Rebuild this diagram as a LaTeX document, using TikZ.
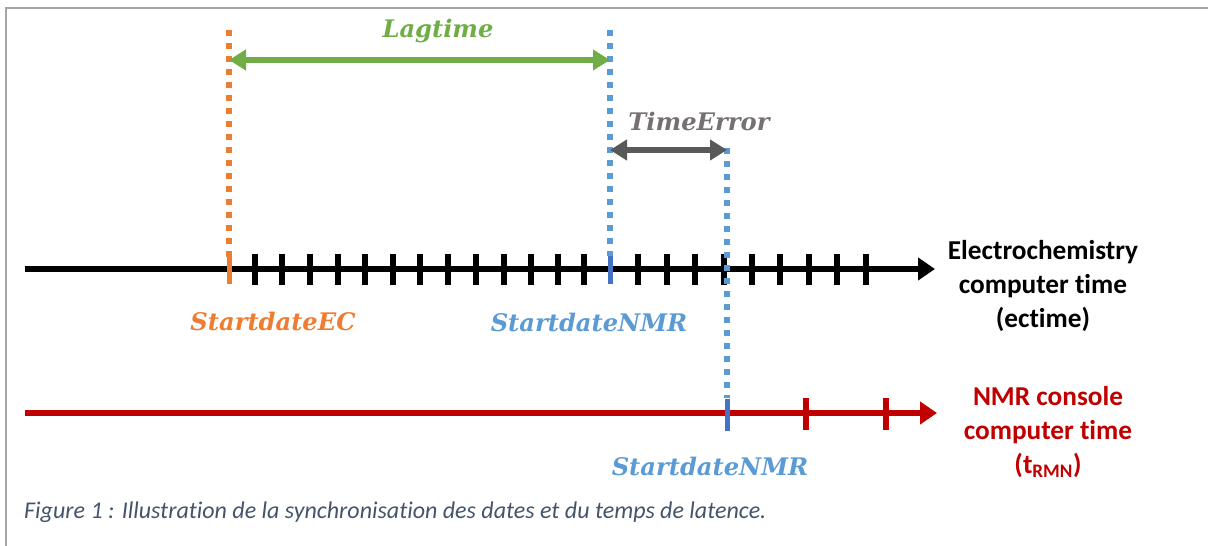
\documentclass[tikz,border=0pt]{standalone}
\usepackage{fontspec}
\setmainfont{Carlito}[Ligatures=NoCommon]
\newfontfamily\mfont{DejaVu Serif}
\usetikzlibrary{arrows.meta}
\definecolor{cOrange}{HTML}{ED7D31}
\definecolor{cLBlue}{HTML}{5B9BD5}
\definecolor{cDBlue}{HTML}{4472C4}
\definecolor{cGreen}{HTML}{70AD47}
\definecolor{cGArrow}{HTML}{595959}
\definecolor{cGText}{HTML}{767171}
\definecolor{cRed}{HTML}{C00000}
\definecolor{cCap}{HTML}{44546A}
\definecolor{cFrame}{HTML}{A6A6A6}
\tikzset{
  dotline/.style={line width=5.5pt, dash pattern=on 5.5pt off 7.5pt},
  tickmark/.style={line width=5.5pt},
  axisline/.style={line width=5.5pt, -{Triangle[length=17pt,width=22pt]}},
  dimarrow/.style={line width=5.5pt, {Triangle[length=17pt,width=20pt]}-{Triangle[length=17pt,width=20pt]}},
  mlabel/.style={font=\mfont\bfseries\itshape\fontsize{24.2}{28}\selectfont, inner sep=0pt},
  axlabel/.style={font=\bfseries\fontsize{27.3}{34}\selectfont, align=center, inner sep=0pt}
}
\begin{document}
\begin{tikzpicture}[x=1pt,y=-1pt]
\useasboundingbox (0,0) rectangle (1208,546);
% frame
\draw[cFrame, line width=2pt] (6,546) -- (6,8) -- (1208,8);
% coordinates
\coordinate (ecTop) at (229,30);
\coordinate (ec) at (229,269);
\coordinate (nmrTop) at (610,30);
\coordinate (nmr) at (610,269);
\coordinate (teTop) at (727,148);
\coordinate (nmrB) at (727,413);
\coordinate (axAs) at (25,269);
\coordinate (axAe) at (935,269);
\coordinate (axBs) at (25,413);
\coordinate (axBe) at (937,413);
\coordinate (lagL) at (229,60);
\coordinate (lagR) at (610,60);
\coordinate (teL) at (610,150);
\coordinate (teR) at (727,150);
% black axis
\draw[axisline, black] (axAs) -- (axAe);
\foreach \x in {255,282,310,338,365,393,420,448,476,504,531,558,584,638,667,695,724,752,780,809,837,866}
  \draw[tickmark, black] (\x,254) -- (\x,285);
% red axis
\draw[axisline, cRed] (axBs) -- (axBe);
\foreach \x in {806,886}
  \draw[tickmark, cRed] (\x,398) -- (\x,430);
% dotted verticals
\draw[dotline, cOrange] (ecTop) -- (229,258);
\draw[line width=5pt, cOrange] (229,256) -- (229,284);
\draw[dotline, cLBlue] (nmrTop) -- (610,256);
\draw[line width=5pt, cDBlue] (610,256) -- (610,284);
\draw[dotline, cLBlue] (teTop) -- (727,398);
\draw[line width=5pt, cDBlue] (727,399) -- (727,431);
% dimension arrows
\draw[dimarrow, cGreen] (lagL) -- (lagR);
\draw[dimarrow, cGArrow] (teL) -- (teR);
% labels
\node[mlabel, cGreen] (lag) at (438,31) {Lagtime};
\node[mlabel, cGText] (te) at (699,121) {TimeError};
\node[mlabel, cOrange] (sec) at (273,321) {StartdateEC};
\node[mlabel, cLBlue] (snmr) at (589,322) {StartdateNMR};
\node[mlabel, cLBlue] (snmr2) at (710,466) {StartdateNMR};
\node[axlabel, black] (ectl) at (1043,286) {Electrochemistry\\computer time\\(ectime)};
\node[axlabel, cRed] (nmrl) at (1048,432) {NMR console\\computer time\\(t\textsubscript{RMN})};
\node[anchor=west, inner sep=0pt, text=cCap, font=\itshape\fontsize{24}{28}\selectfont] (cap) at (24,512) {Figure 1 : Illustration de la synchronisation des dates et du temps de latence.};
\end{tikzpicture}
\end{document}
